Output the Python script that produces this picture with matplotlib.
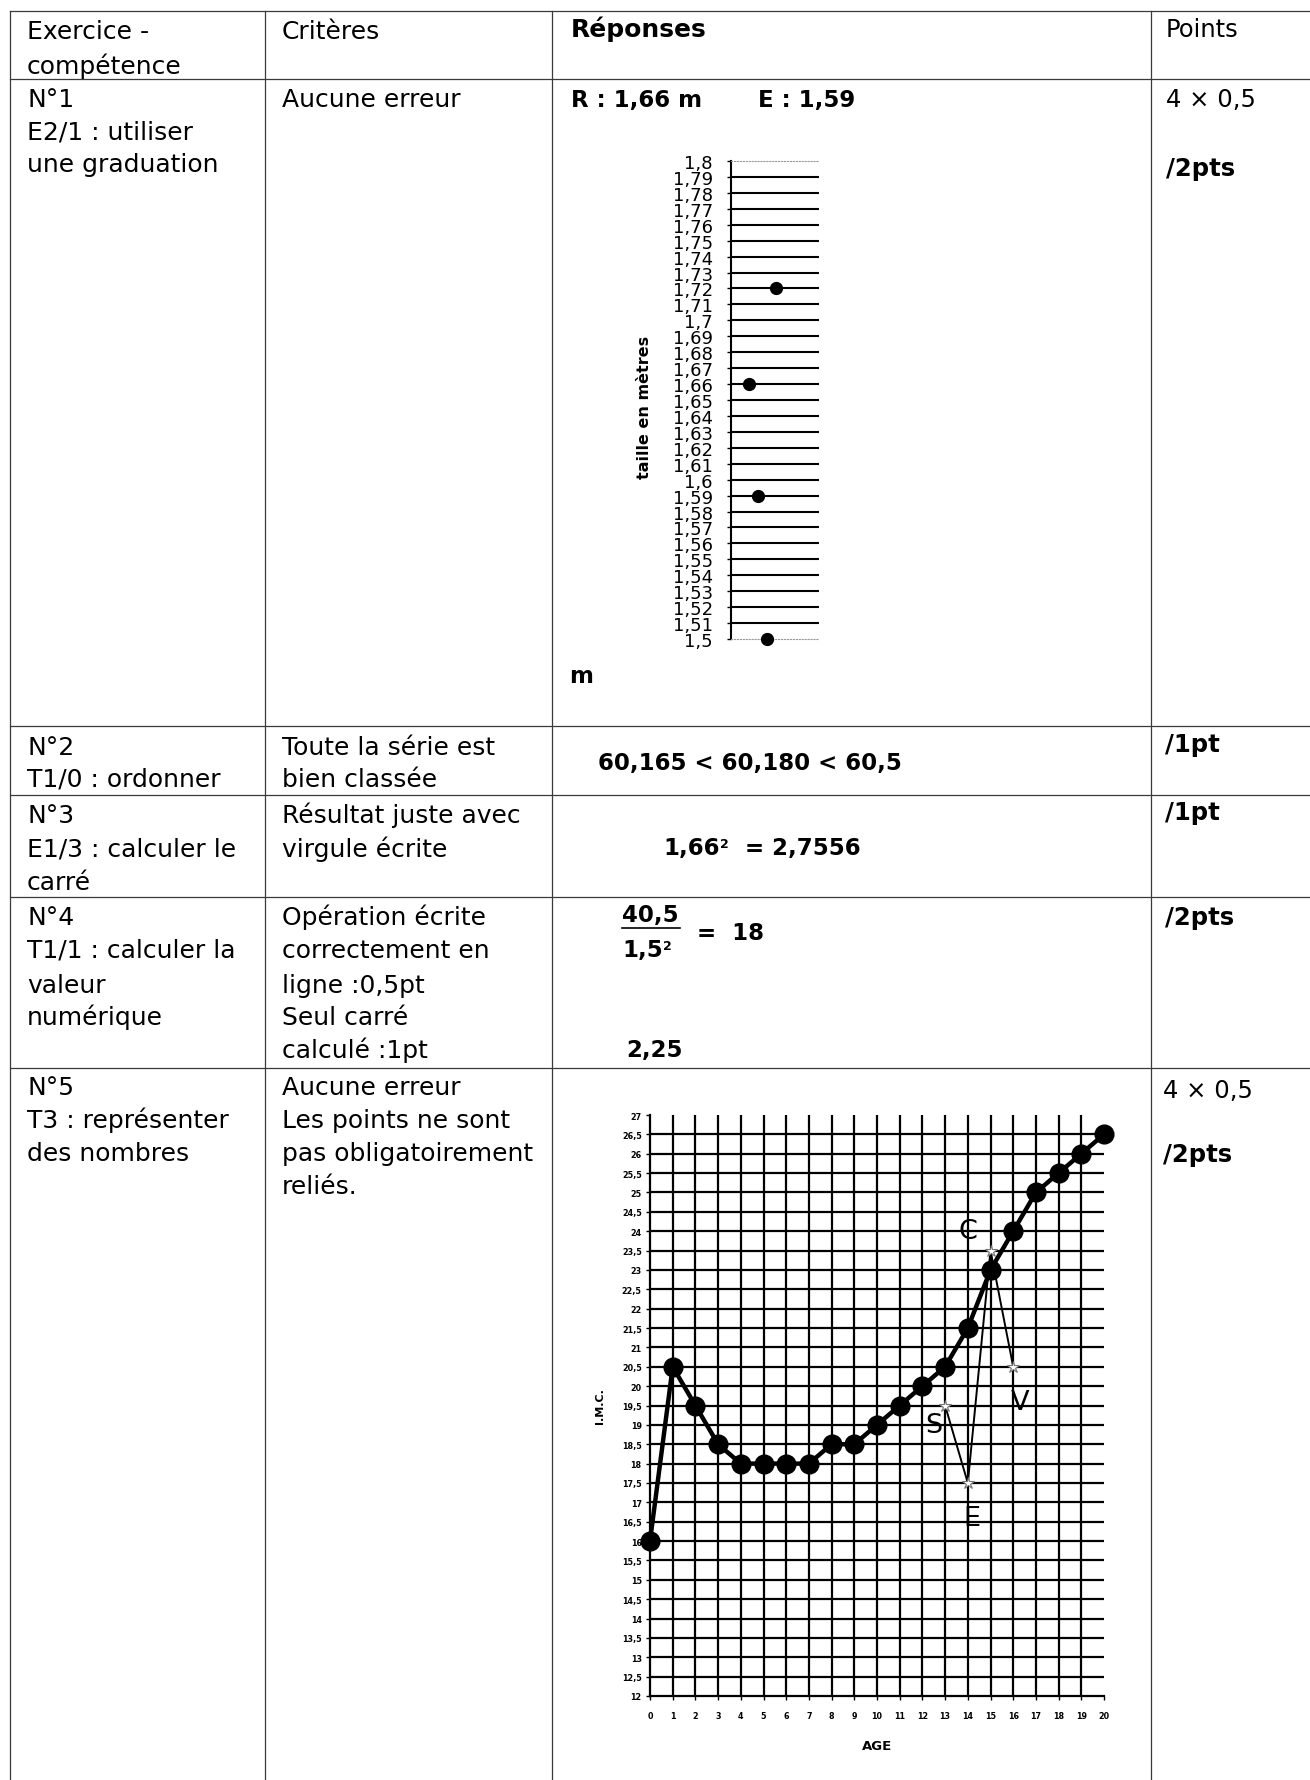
import matplotlib
matplotlib.use("Agg")
import matplotlib.pyplot as plt

plt.rcParams['font.family'] = ['DejaVu Sans']
plt.rcParams['mathtext.fontset'] = 'dejavusans'

W, H = 1310, 1781

# ---------------- DATA ----------------
# Exercice 1 : graduation verticale (taille en mètres)
graduations = [1.50, 1.51, 1.52, 1.53, 1.54, 1.55, 1.56, 1.57, 1.58, 1.59,
               1.60, 1.61, 1.62, 1.63, 1.64, 1.65, 1.66, 1.67, 1.68, 1.69,
               1.70, 1.71, 1.72, 1.73, 1.74, 1.75, 1.76, 1.77, 1.78, 1.79, 1.80]
graduation_labels = ["1,5", "1,51", "1,52", "1,53", "1,54", "1,55", "1,56", "1,57", "1,58", "1,59",
                     "1,6", "1,61", "1,62", "1,63", "1,64", "1,65", "1,66", "1,67", "1,68", "1,69",
                     "1,7", "1,71", "1,72", "1,73", "1,74", "1,75", "1,76", "1,77", "1,78", "1,79", "1,8"]
tailles_pos = [1, 2, 3, 4]
tailles = [1.66, 1.59, 1.50, 1.72]

# Exercice 5 : courbe d'IMC
ages = [0, 1, 2, 3, 4, 5, 6, 7, 8, 9, 10, 11, 12, 13, 14, 15, 16, 17, 18, 19, 20]
imc = [16, 20.5, 19.5, 18.5, 18, 18, 18, 18, 18.5, 18.5, 19, 19.5, 20, 20.5,
       21.5, 23, 24, 25, 25.5, 26, 26.5]
ages_eleve = [13, 14, 15, 16]
imc_eleve = [19.5, 17.5, 23.5, 20.5]
lettres = ["S", "E", "C", "V"]
lettres_x = [12.5, 14.2, 14.0, 16.3]
lettres_y = [19.0, 16.6, 24.0, 19.6]
imc_ticks = [12, 12.5, 13, 13.5, 14, 14.5, 15, 15.5, 16, 16.5, 17, 17.5, 18, 18.5,
             19, 19.5, 20, 20.5, 21, 21.5, 22, 22.5, 23, 23.5, 24, 24.5, 25, 25.5,
             26, 26.5, 27]
imc_tick_labels = [("%g" % v).replace(".", ",") for v in imc_ticks]
age_tick_labels = [str(a) for a in ages]

# ---------------- FIGURE ----------------
fig = plt.figure(figsize=(W / 100, H / 100), dpi=100)
ax0 = fig.add_axes([0, 0, 1, 1])
ax0.set_xlim(0, W)
ax0.set_ylim(H, 0)
ax0.axis('off')


def box(x0, y0, x1, y1):
    return [x0 / W, 1 - y1 / H, (x1 - x0) / W, (y1 - y0) / H]


# table lines
LC = '#3a3a3a'
for y in [12, 80, 727, 796, 898, 1069]:
    ax0.plot([10, W], [y, y], color=LC, lw=0.9)
for x in [10, 265, 552, 1151]:
    ax0.plot([x, x], [12, H], color=LC, lw=0.9)


def txt(x, y, s, bold=False, size=18):
    return ax0.text(x, y, s, fontsize=size, fontweight='bold' if bold else 'normal',
                    va='baseline', ha='left', color='black')


def sup(t, s="2", size=9):
    return ax0.annotate(s, xy=(1, 1), xycoords=t, xytext=(0.5, -1),
                        textcoords='offset points', fontsize=size,
                        fontweight='bold', ha='left', va='top')


# column 1
col1 = [("Exercice -", 39), ("compétence", 74),
        ("N°1", 107), ("E2/1 : utiliser", 139), ("une graduation", 172),
        ("N°2", 755), ("T1/0 : ordonner", 787),
        ("N°3", 823), ("E1/3 : calculer le", 857), ("carré", 890),
        ("N°4", 925), ("T1/1 : calculer la", 958), ("valeur", 993), ("numérique", 1025),
        ("N°5", 1095), ("T3 : représenter", 1128), ("des nombres", 1161)]
for s, y in col1:
    txt(27, y, s)

# column 2
col2 = [("Critères", 39), ("Aucune erreur", 107),
        ("Toute la série est", 755), ("bien classée", 787),
        ("Résultat juste avec", 823), ("virgule écrite", 857),
        ("Opération écrite", 925), ("correctement en", 958), ("ligne :0,5pt", 993),
        ("Seul carré", 1025), ("calculé :1pt", 1058),
        ("Aucune erreur", 1095), ("Les points ne sont", 1128),
        ("pas obligatoirement", 1161), ("reliés.", 1194)]
for s, y in col2:
    txt(282, y, s)

# column 3 (answers)
AS = 16.5
txt(571, 37, "Réponses", bold=True, size=18)
txt(571, 107, "R : 1,66 m", bold=True, size=AS)
txt(758, 107, "E : 1,59", bold=True, size=AS)
txt(569, 683, "m", bold=True, size=AS)
txt(598, 770, "60,165 < 60,180 < 60,5", bold=True, size=AS)
t166 = txt(663, 855, "1,66", bold=True, size=AS)
sup(t166)
txt(745, 855, "= 2,7556", bold=True, size=AS)
txt(622, 922, "40,5", bold=True, size=AS)
ax0.plot([622, 680], [929, 929], color='black', lw=1.2)
t15 = txt(622, 957, "1,5", bold=True, size=AS)
sup(t15)
txt(697, 940, "=  18", bold=True, size=AS)
txt(626, 1057, "2,25", bold=True, size=AS)

# column 4 (points)
txt(1166, 37, "Points", size=17.5)
txt(1166, 107, "4 × 0,5", size=17.5)
txt(1166, 176, "/2pts", bold=True, size=17.5)
txt(1165, 752, "/1pt", bold=True, size=17.5)
txt(1165, 820, "/1pt", bold=True, size=17.5)
txt(1165, 925, "/2pts", bold=True, size=17.5)
txt(1163, 1098, "4 × 0,5", size=17.5)
txt(1163, 1162, "/2pts", bold=True, size=17.5)

# ---------------- CHART 1 : graduation ----------------
ax1 = fig.add_axes(box(731, 162, 819, 640))
ax1.patch.set_alpha(0)
ax1.set_ylim(1.5, 1.8)
ax1.set_xlim(-1.1, 8.9)
ax1.set_yticks(graduations)
ax1.set_yticklabels(graduation_labels, fontsize=13)
ax1.set_xticks([])
ax1.tick_params(axis='y', direction='out', length=3, width=1, pad=10)
ax1.spines['right'].set_visible(False)
ax1.spines['left'].set_linewidth(1.5)
for sp in ['top', 'bottom']:
    ax1.spines[sp].set_linestyle(':')
    ax1.spines[sp].set_color('#999999')
    ax1.spines[sp].set_linewidth(0.8)
ax1.grid(axis='y', color='black', lw=1.5)
gl = ax1.get_ygridlines()
gl[0].set_visible(False)
gl[-1].set_visible(False)
ax1.plot(tailles_pos, tailles, 'o', color='black', ms=8.5, clip_on=False, zorder=5)
ax1.set_ylabel('taille en mètres', fontsize=11.5, fontweight='bold')
ax1.yaxis.set_label_coords(-0.9, 0.487)

# ---------------- CHART 2 : IMC ----------------
ax2 = fig.add_axes(box(650, 1116, 1104, 1697))
ax2.patch.set_alpha(0)
ax2.set_xlim(0, 20)
ax2.set_ylim(12, 27)
ax2.set_xticks(ages)
ax2.set_xticklabels(age_tick_labels, fontsize=5.8, fontweight='bold')
ax2.set_yticks(imc_ticks)
ax2.set_yticklabels(imc_tick_labels, fontsize=5.8, fontweight='bold')
ax2.tick_params(direction='out', length=3, width=1)
ax2.tick_params(axis='x', pad=8)
ax2.tick_params(axis='y', pad=3)
ax2.grid(True, color='black', lw=1.6)
ygl = ax2.get_ygridlines()
ygl[0].set_visible(False)
ygl[-1].set_visible(False)
xgl = ax2.get_xgridlines()
xgl[0].set_visible(False)
xgl[-1].set_visible(False)
ax2.spines['top'].set_visible(False)
ax2.spines['right'].set_visible(False)
ax2.spines['left'].set_linewidth(1.6)
ax2.spines['bottom'].set_linewidth(1.6)
ax2.plot(ages, imc, '-o', color='black', lw=3.2, ms=13.5, clip_on=False, zorder=4)
ax2.plot(ages_eleve, imc_eleve, '-', color='black', lw=1.4, zorder=5)
ax2.plot(ages_eleve, imc_eleve, '*', linestyle='none', ms=9, mfc='white',
         mec='#777777', mew=0.8, zorder=6)
for l, x, y in zip(lettres, lettres_x, lettres_y):
    ax2.text(x, y, l, fontsize=19.5, ha='center', va='center', color='black', zorder=7)
ax2.set_ylabel('I.M.C.', fontsize=8, fontweight='bold')
ax2.yaxis.set_label_coords(-0.099, 0.5)
ax2.set_xlabel('AGE', fontsize=9.5, fontweight='bold')
ax2.xaxis.set_label_coords(0.5, -0.074)

fig.savefig("out.png", dpi=100, facecolor='white')
